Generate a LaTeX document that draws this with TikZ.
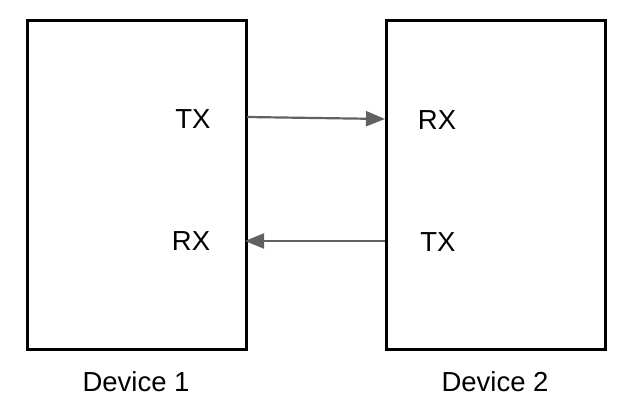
\documentclass[tikz,border=0pt]{standalone}
\usepackage{fontspec}
\setmainfont{Liberation Sans}
\usetikzlibrary{arrows.meta}
\begin{document}
\begin{tikzpicture}[x=1pt,y=-1pt,
  device/.style={draw=black,line width=2.6pt,minimum width=219pt,minimum height=329pt,inner sep=0pt,anchor=north west},
  lbl/.style={font=\fontsize{27.5pt}{30pt}\selectfont,inner sep=0pt,anchor=base},
  link/.style={draw=black!62,line width=2.2pt,-{Triangle[length=19pt,width=15pt]}}]
\useasboundingbox (0,0) rectangle (628,418);
\node[device] (d1) at (26,19) {};
\node[device] (d2) at (385,19) {};
\coordinate (d1tx) at (247,117);
\coordinate (d2rx) at (385,119);
\coordinate (d2tx) at (385,241);
\coordinate (d1rx) at (245,241);
\node[lbl] (t1) at (193,128) {TX};
\node[lbl] (r1) at (191,250) {RX};
\node[lbl] (r2) at (437,129) {RX};
\node[lbl] (t2) at (438,251) {TX};
\node[lbl] (n1) at (136,391) {Device 1};
\node[lbl] (n2) at (495,391) {Device 2};
\draw[link] (d1tx) -- (d2rx);
\draw[link] (d2tx) -- (d1rx);
\end{tikzpicture}
\end{document}
